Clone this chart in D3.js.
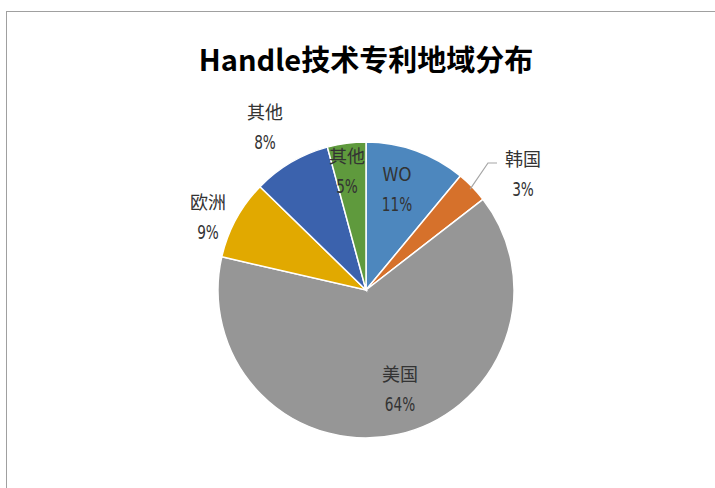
<!DOCTYPE html>
<html>
<head>
<meta charset="utf-8">
<script src="https://cdn.jsdelivr.net/npm/d3@7"></script>
<style>
  body { margin: 0; background: #fff; }
  svg { display: block; }
</style>
</head>
<body>
<div id="chart"></div>
<script>
// data
var title = "Handle技术专利地域分布";
var regions = ["WO", "韩国", "美国", "欧洲", "其他", "其他"];
var shares = [11.0, 3.5, 64.1, 8.7, 8.5, 4.2];   // slice sizes
var pctText = ["11%", "3%", "64%", "9%", "8%", "5%"];
var colors = ["#4d87be", "#d6712b", "#969696", "#e1a900", "#3b62ad", "#5f9a3d"];

var width = 715,
    height = 488;

var svg = d3.select("#chart").append("svg")
    .attr("width", width)
    .attr("height", height);

// chart frame (runs off the right / bottom edge)
svg.append("rect")
    .attr("x", 6.5).attr("y", 11.5)
    .attr("width", 720).attr("height", 500)
    .attr("fill", "none")
    .attr("stroke", "#a0a0a0");

svg.append("text")
    .attr("x", 366).attr("y", 71)
    .attr("text-anchor", "middle")
    .style("font-family", "'Noto Sans CJK SC', sans-serif")
    .style("font-weight", "bold")
    .style("font-size", "29px")
    .attr("fill", "#000")
    .text(title);

var cx = 366, cy = 290, r = 148;

var pie = d3.pie().sort(null).value(function(d) { return d; });
var arcs = pie(shares);
var arc = d3.arc().innerRadius(0).outerRadius(r);

var g = svg.append("g").attr("transform", "translate(" + cx + "," + cy + ")");

g.selectAll("path")
  .data(arcs)
  .enter().append("path")
    .attr("d", arc)
    .attr("fill", function(d, i) { return colors[i]; })
    .attr("stroke", "#fff")
    .attr("stroke-width", 1.5);

// label centres, hand placed like the excel layout
var fixed = [[397, 188], [523, 173], [400, 388], [208, 216], [265, 126], [347, 170]];

var lab = svg.selectAll("g.lab")
  .data(arcs)
  .enter().append("g")
    .attr("class", "lab")
    .attr("transform", function(d, i) { return "translate(" + fixed[i][0] + "," + fixed[i][1] + ")"; });

lab.append("text")
    .attr("y", -7)
    .attr("text-anchor", "middle")
    .style("font-family", "'Noto Sans CJK SC', sans-serif")
    .style("font-size", "18px")
    .attr("fill", "#333")
    .text(function(d, i) { return regions[i]; });

lab.append("text")
    .attr("y", 23)
    .attr("text-anchor", "middle")
    .attr("transform", "scale(0.8,1)")
    .style("font-family", "'DejaVu Sans', sans-serif")
    .style("font-stretch", "condensed")
    .style("font-size", "19px")
    .attr("fill", "#333")
    .text(function(d, i) { return pctText[i]; });

// leader line for 韩国
var kr = arcs[1];
var mid = (kr.startAngle + kr.endAngle) / 2;
var p0 = [cx + Math.sin(mid) * (r - 3), cy - Math.cos(mid) * (r - 3)];
svg.append("polyline")
    .attr("points", [p0, [488, 163], [497, 163]].map(function(p) { return p.join(","); }).join(" "))
    .attr("fill", "none")
    .attr("stroke", "#a6a6a6")
    .attr("stroke-width", 1.2);
</script>
</body>
</html>
